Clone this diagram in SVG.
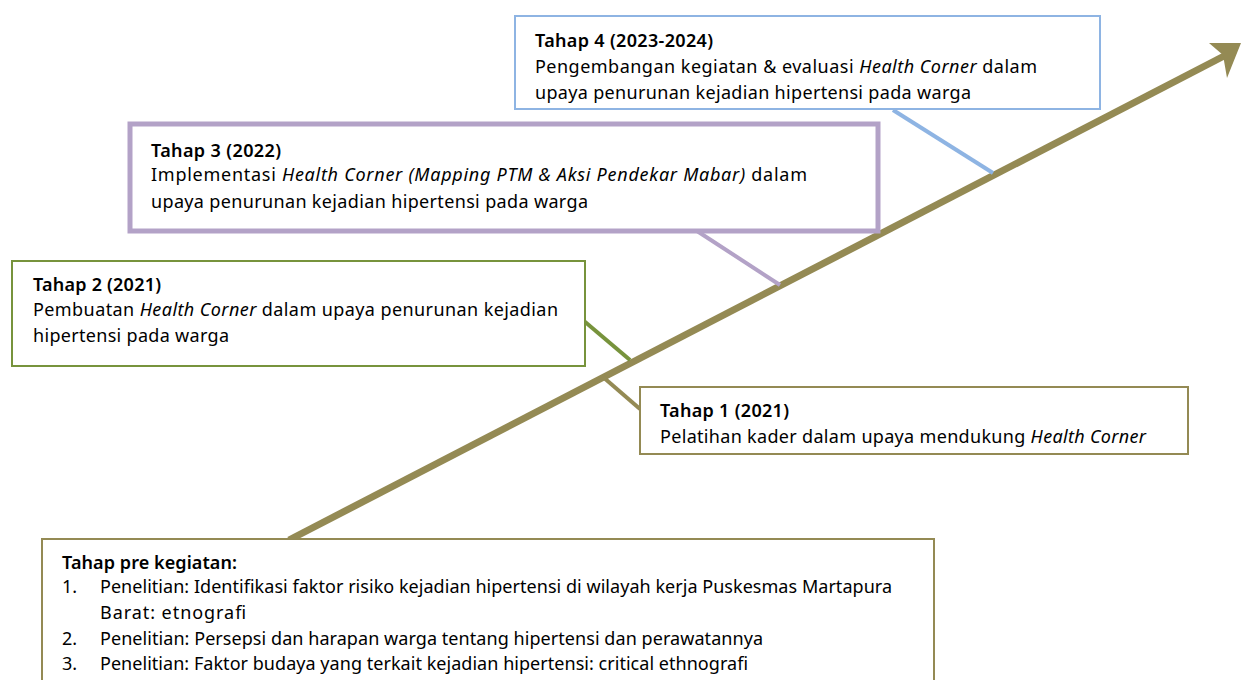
<svg xmlns="http://www.w3.org/2000/svg" width="1241" height="680" viewBox="0 0 1241 680">
<style>
text{font-family:"Noto Sans","Open Sans","DejaVu Sans",sans-serif;font-size:18px;fill:#000}
.t{font-weight:600}
.i{font-style:italic}
.box{fill:#fff}
</style>
<defs>
<clipPath id="c4"><rect x="516" y="17" width="583" height="87"/></clipPath>
<clipPath id="c1"><rect x="641" y="388" width="546" height="62"/></clipPath>
</defs>
<rect width="1241" height="680" fill="#fff"/>
<g id="connectors">
<line x1="289" y1="540" x2="1226" y2="55" stroke="#948A54" stroke-width="7"/>
<polygon points="1241,43 1227,78 1223,55 1209,43" fill="#948A54"/>
<line x1="893" y1="110" x2="993" y2="173" stroke="#8EB4E3" stroke-width="4"/>
<line x1="697" y1="231" x2="780" y2="285" stroke="#B3A2C7" stroke-width="4"/>
<line x1="584" y1="321" x2="630" y2="360" stroke="#77933C" stroke-width="4"/>
<line x1="603" y1="377" x2="640" y2="409" stroke="#948A54" stroke-width="4"/>
</g>
<g id="tahap4">
<rect class="box" x="515" y="16" width="585" height="93" stroke="#8EB4E3" stroke-width="2"/>
<g clip-path="url(#c4)">
<text class="t" x="535" y="47" textLength="178" lengthAdjust="spacing">Tahap 4 (2023-2024)</text>
<text x="535" y="73" textLength="502" lengthAdjust="spacing">Pengembangan kegiatan &amp; evaluasi <tspan class="i">Health Corner</tspan> dalam</text>
<text x="535" y="99" textLength="436" lengthAdjust="spacing">upaya penurunan kejadian hipertensi pada warga</text>
</g>
</g>
<g id="tahap3">
<rect class="box" x="130" y="124" width="748" height="107" stroke="#B3A2C7" stroke-width="5"/>
<text class="t" x="151" y="157" textLength="130" lengthAdjust="spacing">Tahap 3 (2022)</text>
<text x="151" y="181" textLength="656" lengthAdjust="spacing">Implementasi <tspan class="i">Health Corner (Mapping PTM &amp; Aksi Pendekar Mabar)</tspan> dalam</text>
<text x="151" y="208" textLength="437" lengthAdjust="spacing">upaya penurunan kejadian hipertensi pada warga</text>
</g>
<g id="tahap2">
<rect class="box" x="12" y="261" width="573" height="105" stroke="#77933C" stroke-width="2"/>
<text class="t" x="33" y="291" textLength="128" lengthAdjust="spacing">Tahap 2 (2021)</text>
<text x="33" y="316" textLength="525" lengthAdjust="spacing">Pembuatan <tspan class="i">Health Corner</tspan> dalam upaya penurunan kejadian</text>
<text x="33" y="342" textLength="196" lengthAdjust="spacing">hipertensi pada warga</text>
</g>
<g id="tahap1">
<rect class="box" x="640" y="387" width="548" height="67" stroke="#948A54" stroke-width="2"/>
<g clip-path="url(#c1)">
<text class="t" x="660" y="417" textLength="129" lengthAdjust="spacing">Tahap 1 (2021)</text>
<text x="660" y="443" textLength="486" lengthAdjust="spacing">Pelatihan kader dalam upaya mendukung <tspan class="i">Health Corner</tspan></text>
</g>
</g>
<g id="pre">
<rect class="box" x="42" y="539" width="892" height="160" stroke="#948A54" stroke-width="2"/>
<text class="t" x="62" y="569" textLength="175" lengthAdjust="spacing">Tahap pre kegiatan:</text>
<text x="62" y="593">1.</text>
<text x="100" y="593" textLength="792" lengthAdjust="spacing">Penelitian: Identifikasi faktor risiko kejadian hipertensi di wilayah kerja Puskesmas Martapura</text>
<text x="100" y="619" textLength="146" lengthAdjust="spacing">Barat: etnografi</text>
<text x="62" y="645">2.</text>
<text x="100" y="645" textLength="663" lengthAdjust="spacing">Penelitian: Persepsi dan harapan warga tentang hipertensi dan perawatannya</text>
<text x="62" y="670">3.</text>
<text x="100" y="670" textLength="648" lengthAdjust="spacing">Penelitian: Faktor budaya yang terkait kejadian hipertensi: critical ethnografi</text>
</g>
</svg>
